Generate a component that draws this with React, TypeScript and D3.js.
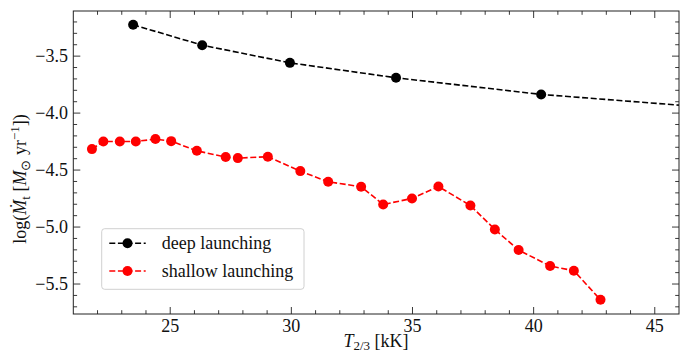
import React, { useEffect, useRef } from 'react';
import * as d3 from 'd3';

const deepT = [23.47, 26.32, 29.94, 34.32, 40.31, 47.5];
const deepMdot = [-3.225, -3.404, -3.559, -3.69, -3.836, -3.955];

const shallowT = [21.77, 22.24, 22.92, 23.58, 24.39, 25.04, 26.1, 27.29, 27.79, 29.03, 30.37, 31.52, 32.88, 33.79, 34.98, 36.07, 37.39, 38.4, 39.38, 40.68, 41.66, 42.76];
const shallowMdot = [-4.316, -4.249, -4.249, -4.249, -4.228, -4.246, -4.331, -4.386, -4.395, -4.383, -4.509, -4.603, -4.646, -4.802, -4.749, -4.644, -4.811, -5.021, -5.202, -5.342, -5.383, -5.638];

const xTicks = [25, 30, 35, 40, 45];
const yTicks = [-5.5, -5.0, -4.5, -4.0, -3.5];
const legendLabels = ['deep launching', 'shallow launching'];
const seriesColors = ['#000000', '#ff0000'];

const W = 680, H = 356;
const M = { left: 73.3, right: 679, top: 11, bottom: 314 };
const FONT = '"Liberation Serif", "Times New Roman", serif';

export default function App() {
  const ref = useRef<SVGSVGElement>(null);
  useEffect(() => {
    const svg = d3.select(ref.current);
    svg.selectAll('*').remove();
    const x = d3.scaleLinear().domain([21, 46]).range([M.left, M.right]);
    const y = d3.scaleLinear().domain([-5.763, -3.104]).range([M.bottom, M.top]);

    svg.append('defs').append('clipPath').attr('id', 'clip')
      .append('rect').attr('x', M.left).attr('y', M.top)
      .attr('width', M.right - M.left).attr('height', M.bottom - M.top);

    const g = svg.append('g').attr('clip-path', 'url(#clip)');
    const series = [
      { xs: deepT, ys: deepMdot, color: seriesColors[0] },
      { xs: shallowT, ys: shallowMdot, color: seriesColors[1] },
    ];
    const line = d3.line<[number, number]>().x(d => x(d[0])).y(d => y(d[1]));
    series.forEach(s => {
      const pts: [number, number][] = s.xs.map((v, i) => [v, s.ys[i]]);
      g.append('path').attr('d', line(pts)!).attr('fill', 'none')
        .attr('stroke', s.color).attr('stroke-width', 1.6).attr('stroke-dasharray', '6,2.6');
      g.selectAll(null).data(pts).enter().append('circle')
        .attr('cx', d => x(d[0])).attr('cy', d => y(d[1])).attr('r', 5).attr('fill', s.color);
    });

    // ticks
    const tk = svg.append('g').attr('stroke', '#222').attr('stroke-width', 0.9);
    const xMinor = d3.range(21, 47, 1);
    const yMinor = d3.range(-57, -30, 1).map(v => v / 10).filter(v => v >= -5.763 && v <= -3.104);
    xMinor.forEach(v => {
      const major = xTicks.includes(v);
      const L = major ? 7 : 3.8;
      const px = x(v);
      if (px <= M.left + 0.5 || px >= M.right - 0.5) return;
      tk.append('line').attr('x1', px).attr('x2', px).attr('y1', M.bottom).attr('y2', M.bottom - L);
      tk.append('line').attr('x1', px).attr('x2', px).attr('y1', M.top).attr('y2', M.top + L);
    });
    yMinor.forEach(v => {
      const major = yTicks.some(t => Math.abs(t - v) < 1e-6);
      const L = major ? 7 : 3.8;
      const py = y(v);
      tk.append('line').attr('x1', M.left).attr('x2', M.left + L).attr('y1', py).attr('y2', py);
      tk.append('line').attr('x1', M.right).attr('x2', M.right - L).attr('y1', py).attr('y2', py);
    });

    svg.append('rect').attr('x', M.left).attr('y', M.top)
      .attr('width', M.right - M.left).attr('height', M.bottom - M.top)
      .attr('fill', 'none').attr('stroke', '#222').attr('stroke-width', 1);

    const lab = svg.append('g').style('font-family', FONT).attr('font-size', 18).attr('fill', '#111');
    xTicks.forEach(v => {
      lab.append('text').attr('x', x(v)).attr('y', 332).attr('text-anchor', 'middle').text(String(v));
    });
    yTicks.forEach(v => {
      lab.append('text').attr('x', 68).attr('y', y(v) + 6).attr('text-anchor', 'end')
        .text(d3.format('.1f')(v).replace('-', '\u2212'));
    });

    // x label
    const xl = lab.append('text').attr('x', 376).attr('y', 347).attr('text-anchor', 'middle');
    xl.append('tspan').attr('font-style', 'italic').text('T');
    xl.append('tspan').attr('font-size', 13).attr('dy', 3).text('2/3');
    xl.append('tspan').attr('dy', -3).text(' [kK]');

    // y label
    const yl = lab.append('text').attr('transform', 'translate(26,179) rotate(-90)').attr('text-anchor', 'middle');
    yl.append('tspan').text('log(');
    yl.append('tspan').attr('font-style', 'italic').text('\u1E40');
    yl.append('tspan').attr('font-size', 13).attr('dy', 4).text('t');
    yl.append('tspan').attr('dy', -4).text(' [');
    yl.append('tspan').attr('font-style', 'italic').text('M');
    yl.append('tspan').attr('font-size', 13).attr('dy', 4).text('\u2299');
    yl.append('tspan').attr('dy', -4).text(' yr');
    yl.append('tspan').attr('font-size', 13).attr('dy', -7).text('\u22121');
    yl.append('tspan').attr('dy', 7).text('])');

    // legend
    const lg = svg.append('g');
    lg.append('rect').attr('x', 101.7).attr('y', 228.7).attr('width', 202.3).attr('height', 60.6)
      .attr('rx', 3).attr('fill', 'white').attr('fill-opacity', 0.8).attr('stroke', '#d0d0d0');
    legendLabels.forEach((t, i) => {
      const cy = 243.3 + i * 27.7;
      lg.append('line').attr('x1', 109.3).attr('x2', 145.7).attr('y1', cy).attr('y2', cy)
        .attr('stroke', seriesColors[i]).attr('stroke-width', 1.6).attr('stroke-dasharray', '6,2.6');
      lg.append('circle').attr('cx', 127.5).attr('cy', cy).attr('r', 5).attr('fill', seriesColors[i]);
      lg.append('text').attr('x', 161.7).attr('y', cy + 6).style('font-family', FONT).attr('font-size', 18)
        .attr('fill', '#111').text(t);
    });
  }, []);
  return (
    <svg ref={ref} width={W} height={H} style={{ position: 'absolute', left: 0, top: 0, background: 'white' }} />
  );
}
